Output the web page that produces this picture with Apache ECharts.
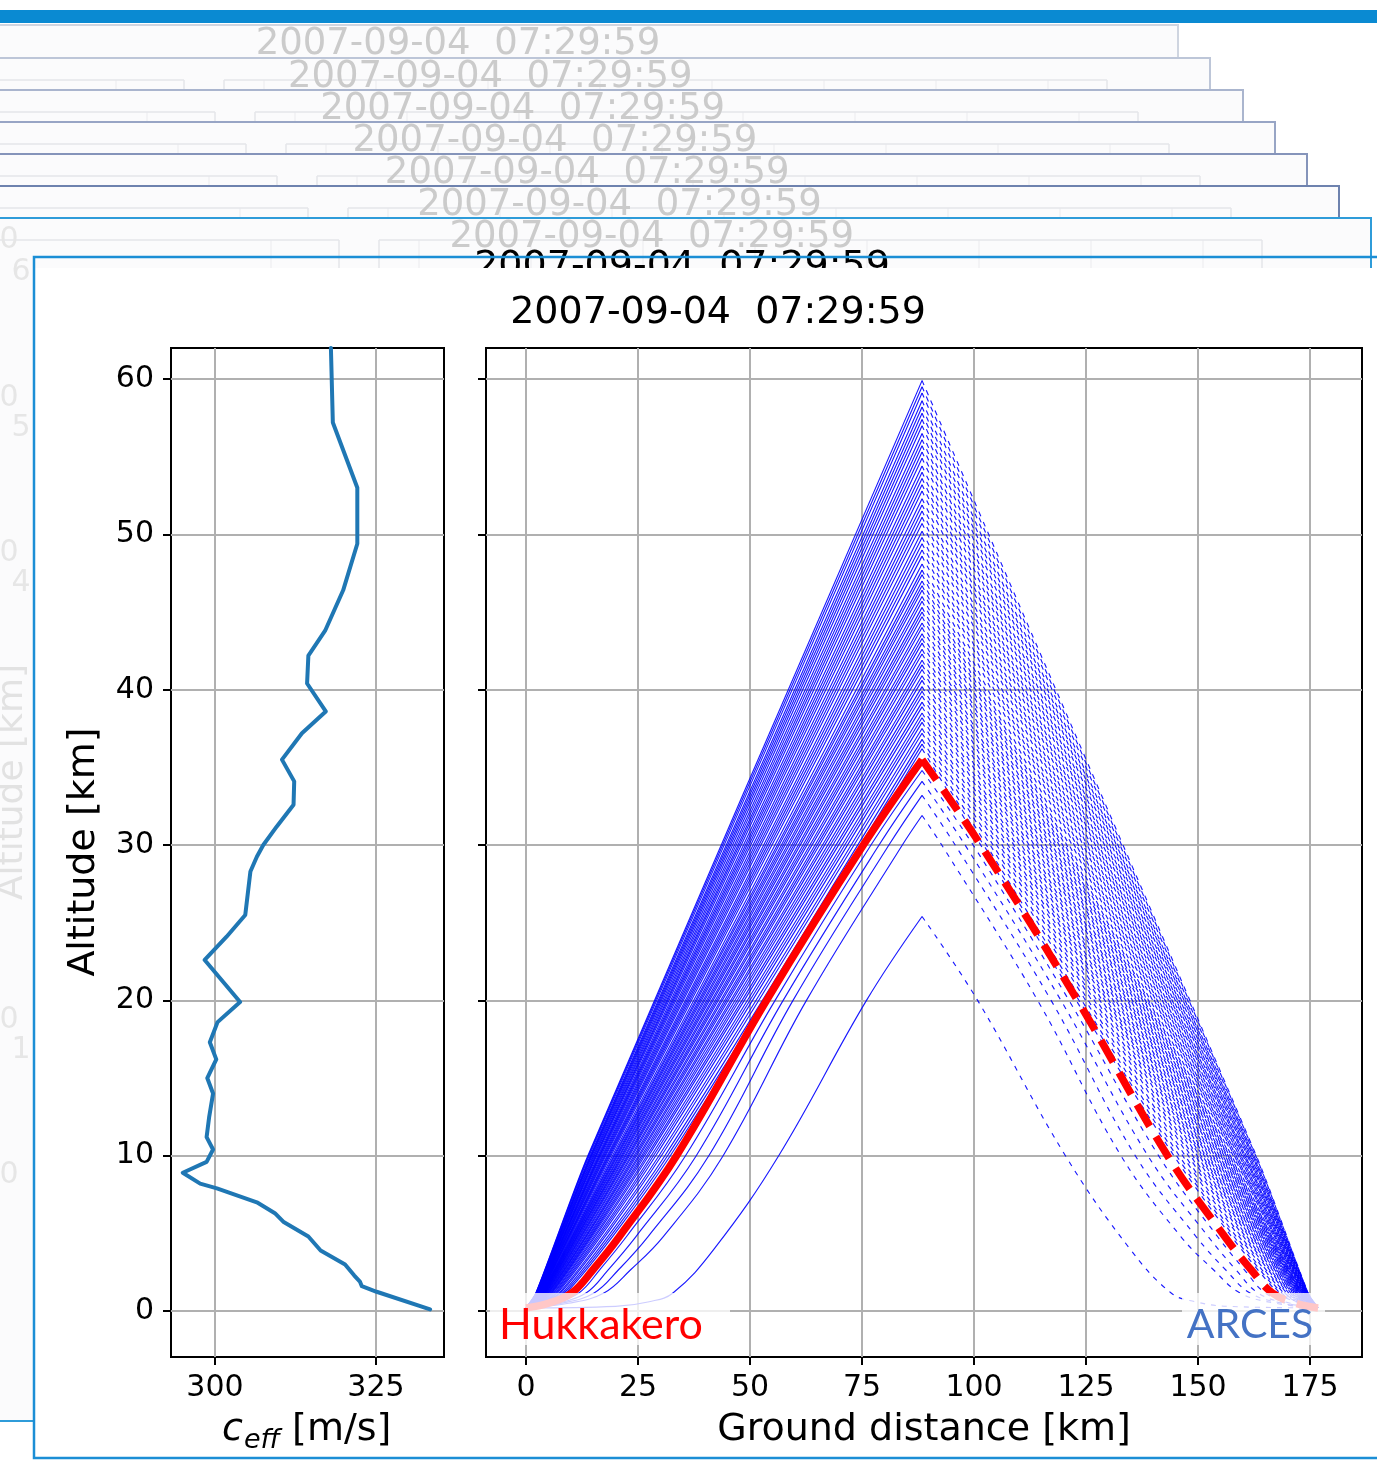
<!DOCTYPE html>
<html>
<head>
<meta charset="utf-8">
<title>Ray paths Hukkakero - ARCES</title>
<script src="https://cdn.jsdelivr.net/npm/echarts@6.0.0/dist/echarts.min.js"></script>
<style>
html, body { margin: 0; padding: 0; background: #ffffff; }
#chart { width: 1377px; height: 1463px; }
</style>
</head>
<body>
<div id="chart"></div>
<script>
// ---------------- data ----------------
const timeLabel = '2007-09-04  07:29:59';

// effective sound speed profile (altitude km, c_eff m/s)
const ceffAlt = [62.0, 57.2, 53.0, 49.4, 46.4, 43.8, 42.2, 40.4, 38.6, 37.2, 35.5, 34.1, 32.6, 31.2, 30.0, 29.25, 28.3,
  25.5, 24.1, 22.6, 19.9, 18.6, 17.3, 16.2, 15.0, 14.0, 12.5, 11.2, 10.4, 9.6, 8.9, 8.2, 7.9, 7.0, 6.3, 5.75, 4.8,
  3.9, 3.0, 2.3, 1.9, 1.6, 1.24, 0.1];
const ceffSpeed = [318.0, 318.3, 322.1, 322.1, 319.9, 317.1, 314.5, 314.3, 317.2, 313.5, 310.4, 312.3, 312.2, 309.6, 307.5, 306.5, 305.5,
  304.7, 301.8, 298.4, 303.9, 300.4, 299.2, 300.2, 298.8, 299.7, 299.1, 298.7, 299.7, 298.7, 295.0, 297.7, 300.3, 306.5, 309.3, 310.6, 314.5,
  316.4, 320.2, 321.6, 322.5, 322.8, 325.1, 333.4];

// ray geometry: up-going legs from the source, reflected at the mid-point
const reflectionDist = 88.4;      // km
const sourceAlt = 0.2;            // km
const fanNodeAlt = [1.16, 10];    // altitudes of the listed crossing distances

// dense fan: reflection altitude and crossing distances at the node altitudes
const fanApex = [59.9, 59.5, 59.1, 58.6, 58.2, 57.8, 57.4, 57.0, 56.5, 56.1, 55.7, 55.3, 54.9, 54.4, 54.0, 53.6,
  53.2, 52.8, 52.3, 51.9, 51.5, 51.1, 50.7, 50.2, 49.8, 49.4, 49.0, 48.6, 48.1, 47.7, 47.4, 47.0,
  46.7, 46.4, 46.0, 45.7, 45.3, 45.0, 44.7, 44.3, 44.0, 43.6, 43.3, 43.0, 42.6, 42.3, 41.9, 41.6,
  41.3, 40.9, 40.6, 40.2, 39.9, 39.6, 39.2, 38.9, 38.5, 38.2, 37.9, 37.5, 37.2, 36.8, 36.5, 36.2];
const fanX1 = [2.20, 2.23, 2.27, 2.31, 2.34, 2.38, 2.41, 2.44, 2.48, 2.52, 2.55, 2.58, 2.62, 2.67, 2.71, 2.75,
  2.79, 2.83, 2.88, 2.92, 2.97, 3.02, 3.06, 3.12, 3.17, 3.22, 3.27, 3.34, 3.42, 3.48, 3.54, 3.61,
  3.66, 3.72, 3.80, 3.86, 3.95, 4.01, 4.08, 4.17, 4.25, 4.35, 4.43, 4.52, 4.64, 4.74, 4.87, 4.97,
  5.08, 5.24, 5.37, 5.55, 5.70, 5.86, 6.09, 6.28, 6.56, 6.78, 7.02, 7.40, 7.70, 8.16, 8.54, 8.96];
const fanX10 = [13.80, 13.93, 14.10, 14.33, 14.47, 14.60, 14.75, 14.95, 15.13, 15.30, 15.50, 15.63, 15.80, 16.05, 16.25, 16.40,
  16.55, 16.75, 17.00, 17.20, 17.40, 17.60, 17.80, 18.10, 18.30, 18.50, 18.70, 18.95, 19.30, 19.60, 19.80, 20.07,
  20.28, 20.49, 20.77, 20.98, 21.26, 21.48, 21.72, 22.04, 22.28, 22.60, 22.84, 23.09, 23.45, 23.72, 24.10, 24.40,
  24.70, 25.10, 25.40, 25.80, 26.14, 26.50, 26.98, 27.38, 27.96, 28.44, 28.96, 29.68, 30.22, 31.00, 31.60, 32.20];

// low-angle rays below the highlighted one: distance at each listed altitude
const lowRayDist = [
  [0, 6.2, 11.8, 16.4, 22.4, 35.6, 55.6, 77.0, 88.4],
  [0, 7.0, 13.4, 18.3, 24.5, 38.0, 57.4, 78.8, 88.4],
  [0, 8.0, 15.2, 20.6, 27.2, 40.8, 59.6, 81.0, 88.4],
  [0, 9.5, 17.4, 23.3, 30.6, 44.0, 62.6, 84.0, 88.4],
  [0, 20.0, 27.5, 32.8, 42.0, 56.4, 76.0, 88.4]
];
const lowRayAlt = [
  [0.2, 0.5, 1.16, 2.64, 4.78, 10, 20, 30, 34.8],
  [0.2, 0.5, 1.16, 2.64, 4.78, 10, 20, 30, 34.1],
  [0.2, 0.5, 1.16, 2.64, 4.78, 10, 20, 30, 33.2],
  [0.2, 0.5, 1.16, 2.64, 4.78, 10, 20, 30, 31.9],
  [0.2, 0.3, 0.6, 1.16, 4.0, 10, 20, 25.4]
];

// highlighted eigenray
const redRayDist = [0, 5.0, 10.2, 14.9, 20.8, 33.6, 53.7, 75.3, 88.4];
const redRayAlt = [0.2, 0.5, 1.16, 2.64, 4.78, 10, 20, 30, 35.5];

const altTicks = [0, 10, 20, 30, 40, 50, 60];
const ceffTicks = [300, 325];
const distTicks = [0, 25, 50, 75, 100, 125, 150, 175];

// ---------------- helpers ----------------
function zip(xs, ys) { return xs.map((x, k) => [x, ys[k]]); }
function reflect(path) { return path.map(p => [2 * reflectionDist - p[0], p[1]]).reverse(); }

const FONT = '"DejaVu Sans", sans-serif';
const rayBlue = 'rgba(0,0,255,0.9)';

// ---------------- series ----------------
const series = [];
series.push({
  type: 'line', name: 'ceff', xAxisIndex: 0, yAxisIndex: 0,
  data: zip(ceffSpeed, ceffAlt), symbol: 'none', silent: true, z: 3,
  lineStyle: { color: '#1f77b4', width: 4, cap: 'round', join: 'round' }
});

function addRay(path, color, width, dash, z, smooth) {
  series.push({
    type: 'line', xAxisIndex: 1, yAxisIndex: 1, data: path, symbol: 'none',
    smooth: smooth, silent: true, z: z,
    lineStyle: { color: color, width: width, type: 'solid' }
  });
  series.push({
    type: 'line', xAxisIndex: 1, yAxisIndex: 1, data: reflect(path), symbol: 'none',
    smooth: smooth, silent: true, z: z,
    lineStyle: { color: color, width: width, type: dash }
  });
}
fanApex.forEach((a, i) => addRay(
  [[0, sourceAlt], [fanX1[i], fanNodeAlt[0]], [fanX10[i], fanNodeAlt[1]], [reflectionDist, a]],
  rayBlue, 1.15, [5, 6], 2, 0.25));
lowRayDist.forEach((d, i) => addRay(zip(d, lowRayAlt[i]), rayBlue, 1.15, [5, 6], 2, 0.4));
addRay(zip(redRayDist, redRayAlt), '#ff0000', 7.5, [25, 12], 3, 0.4);

// ---------------- axes ----------------
const tickCfg = vals => ({ show: true, inside: false, length: 8, customValues: vals, lineStyle: { color: '#000', width: 2 } });
const labelCfg = (vals, margin) => ({ show: true, customValues: vals, margin: margin, fontFamily: FONT, fontSize: 30, color: '#000' });
const splitCfg = { show: true, lineStyle: { color: '#b0b0b0', width: 2 } };
const noLine = { show: false, onZero: false };

// ---------------- background slides ----------------
const frameTops = [25, 58, 90, 122, 154, 186, 218];
const frameRights = [1178, 1210, 1243, 1275, 1307, 1339, 1371];
const frameBottoms = [1229, 1261, 1293, 1325, 1357, 1389, 1421];
const frameEdge = ['#cfd5e0', '#bdc6d8', '#aab5ce', '#98a5c5', '#8594ba', '#6e82ae', '#2f9cd9'];
const frameBottomEdge = ['#f0f0f0', '#f0f0f0', '#eeeeee', '#ececec', '#e6e8ee', '#dfe3ec', '#2f9cd9'];

const bg = [];
const seg = (x1, y1, x2, y2, color, w) => ({ type: 'line', z: -1, silent: true,
  shape: { x1: x1, y1: y1, x2: x2, y2: y2 }, style: { stroke: color, lineWidth: w } });
const txt = (s, x, y, font, fill, extra) => Object.assign({ type: 'text', silent: true, x: x, y: y,
  style: { text: s, x: 0, y: 0, font: font, fill: fill, align: 'center', verticalAlign: 'middle',
    textAlign: 'center', textVerticalAlign: 'middle' } }, extra || {});

bg.push({ type: 'rect', z: -1, silent: true, shape: { x: 0, y: 10, width: 1377, height: 13 }, style: { fill: '#0a8ad2' } });

frameTops.forEach((t, i) => {
  const r = frameRights[i], b = frameBottoms[i];
  bg.push({ type: 'rect', z: -1, silent: true, shape: { x: -10, y: t, width: r + 10, height: b - t }, style: { fill: '#fbfbfc' } });
  if (i > 0) {
    const gy = t + 22, sh = 31 * (i - 1);
    const faint = '#e4e6ea', fainter = '#f0f1f3';
    bg.push(seg(116 + sh, gy, 116 + sh, b, fainter, 1.5));
    for (let k = 0; k < 8; k++) bg.push(seg(264 + sh + 112 * k, gy, 264 + sh + 112 * k, b, fainter, 1.5));
    bg.push(seg(-10, gy, 184 + sh, gy, faint, 1.5));
    bg.push(seg(184 + sh, gy, 184 + sh, b, faint, 1.5));
    bg.push(seg(224 + sh, gy, 1107 + sh, gy, faint, 1.5));
    bg.push(seg(224 + sh, gy, 224 + sh, b, faint, 1.5));
    bg.push(seg(1107 + sh, gy, 1107 + sh, b, faint, 1.5));
  }
  const t1 = txt(timeLabel, 458 + 32.3 * i, t + 19, '37px ' + FONT, '#cbcbcb');
  t1.z = -1;
  bg.push(t1);
  bg.push({ type: 'polyline', z: -1, silent: true, shape: { points: [[-10, t], [r, t], [r, b]] },
    style: { stroke: frameEdge[i], lineWidth: 2, fill: null } });
  bg.push(seg(-10, b, r, b, frameBottomEdge[i], 2));
});

// faint labels of the slide behind, visible left of the front slide
[['0', 9, 240], ['6', 21, 272], ['0', 9, 398], ['5', 21, 428], ['0', 9, 553], ['4', 21, 583],
 ['0', 9, 1020], ['1', 21, 1050], ['0', 9, 1175]].forEach(g => {
  const e = txt(g[0], g[1], g[2], '30px ' + FONT, '#e6e6e6'); e.z = -1; bg.push(e);
});
(function () {
  const e = txt('Altitude [km]', 13, 782, '36px ' + FONT, '#e2e2e2', { rotation: Math.PI / 2 });
  e.z = -1; bg.push(e);
})();

// title of the front slide, partly showing above its plot area
(function () {
  const e = txt(timeLabel, 682, 267, '38px ' + FONT, '#000'); e.z = -1; bg.push(e);
})();
bg.push({ type: 'rect', z: -1, silent: true, shape: { x: 35, y: 268, width: 1400, height: 1189 }, style: { fill: '#ffffff' } });
bg.push({ type: 'rect', z: -1, silent: true, shape: { x: 34, y: 257, width: 1400, height: 1201 },
  style: { fill: null, stroke: '#1b8ed5', lineWidth: 2.5 } });

// ---------------- foreground text ----------------
const fg = [];
const front = e => { e.z = 20; fg.push(e); };
front(txt(timeLabel, 718, 313, '38px ' + FONT, '#000'));
front(txt('Altitude [km]', 84, 852, '38px ' + FONT, '#000', { rotation: Math.PI / 2 }));
front(txt('Ground distance [km]', 924, 1430, '38px ' + FONT, '#000'));
// c_eff [m/s]
front({ type: 'text', silent: true, x: 222, y: 1430, style: { text: 'c', x: 0, y: 0, font: 'italic 38px ' + FONT, fill: '#000',
  align: 'left', verticalAlign: 'middle', textAlign: 'left', textVerticalAlign: 'middle' } });
front({ type: 'text', silent: true, x: 244, y: 1441, style: { text: 'eff', x: 0, y: 0, font: 'italic 27px ' + FONT, fill: '#000',
  align: 'left', verticalAlign: 'middle', textAlign: 'left', textVerticalAlign: 'middle' } });
front({ type: 'text', silent: true, x: 280, y: 1430, style: { text: ' [m/s]', x: 0, y: 0, font: '38px ' + FONT, fill: '#000',
  align: 'left', verticalAlign: 'middle', textAlign: 'left', textVerticalAlign: 'middle' } });

// station labels on translucent boxes
front({ type: 'rect', silent: true, shape: { x: 490, y: 1293, width: 240, height: 52 }, style: { fill: 'rgba(255,255,255,0.78)' } });
front({ type: 'rect', silent: true, shape: { x: 1182, y: 1293, width: 143, height: 52 }, style: { fill: 'rgba(255,255,255,0.78)' } });
front(txt('Hukkakero', 601, 1325, '43px Lato, "Open Sans", sans-serif', '#ff0000'));
front(txt('ARCES', 1250, 1325, '41px Lato, "Open Sans", sans-serif', '#4472c4'));

// ---------------- chart ----------------
const chart = echarts.init(document.getElementById('chart'), null, { renderer: 'canvas' });
chart.setOption({
  animation: false,
  backgroundColor: '#ffffff',
  grid: [
    { left: 171, top: 348, width: 273, height: 1009, containLabel: false, show: true, borderColor: '#000', borderWidth: 2, backgroundColor: 'transparent' },
    { left: 486, top: 348, width: 876, height: 1009, containLabel: false, show: true, borderColor: '#000', borderWidth: 2, backgroundColor: 'transparent' }
  ],
  xAxis: [
    { type: 'value', gridIndex: 0, min: 293.17, max: 335.56, axisLine: noLine,
      axisTick: tickCfg(ceffTicks), axisLabel: labelCfg(ceffTicks, 16), splitLine: splitCfg },
    { type: 'value', gridIndex: 1, min: -8.93, max: 186.6, axisLine: noLine,
      axisTick: tickCfg(distTicks), axisLabel: labelCfg(distTicks, 16), splitLine: splitCfg }
  ],
  yAxis: [
    { type: 'value', gridIndex: 0, min: -2.96, max: 62.0, axisLine: noLine,
      axisTick: tickCfg(altTicks), axisLabel: labelCfg(altTicks, 17), splitLine: splitCfg },
    { type: 'value', gridIndex: 1, min: -2.96, max: 62.0, axisLine: noLine,
      axisTick: tickCfg(altTicks), axisLabel: { show: false, customValues: altTicks }, splitLine: splitCfg }
  ],
  graphic: bg.concat(fg),
  series: series
});
</script>
</body>
</html>
